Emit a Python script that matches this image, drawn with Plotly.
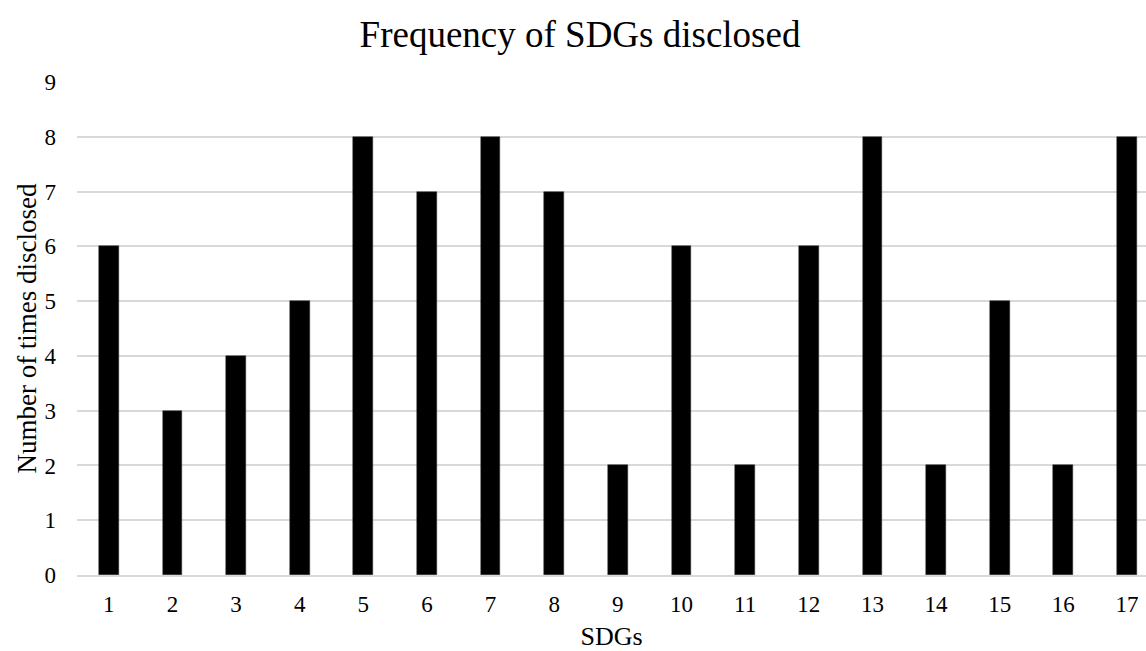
import plotly.graph_objects as go

sdgs = list(range(1, 18))
counts = [6, 3, 4, 5, 8, 7, 8, 7, 2, 6, 2, 6, 8, 2, 5, 2, 8]
y_ticks = list(range(0, 10))

fig = go.Figure()
fig.add_trace(go.Bar(
    x=sdgs, y=counts, width=0.31,
    marker=dict(color="black", line=dict(color="#333333", width=0.5)),
))

font = "Liberation Serif, Times New Roman, serif"
fig.update_layout(
    width=1146, height=651,
    margin=dict(l=77, r=0, t=82, b=76),
    paper_bgcolor="white", plot_bgcolor="white",
    font=dict(family=font, color="black", size=22),
    title=dict(text="Frequency of SDGs disclosed", x=580/1146, xanchor="center",
               y=1 - 34/651, yanchor="middle", font=dict(size=37, family=font)),
    showlegend=False,
    bargap=0,
)
fig.update_xaxes(
    range=[0.5, 17.3], tickmode="array", tickvals=sdgs, ticktext=[str(s) for s in sdgs],
    showgrid=False, showline=True, linecolor="#d9d9d9", linewidth=1.5,
    ticks="", ticklabelstandoff=8,
    title=dict(text="SDGs", font=dict(size=26), standoff=15),
    tickfont=dict(size=23),
)
fig.update_yaxes(
    range=[0, 9], tickmode="array", tickvals=y_ticks,
    showgrid=True, gridcolor="#d9d9d9", gridwidth=1.5,
    zeroline=False, showline=False, ticks="", ticklabelstandoff=20,
    title=dict(text="Number of times disclosed", font=dict(size=27), standoff=0),
    tickfont=dict(size=23),
)
fig.write_html("out.html")
